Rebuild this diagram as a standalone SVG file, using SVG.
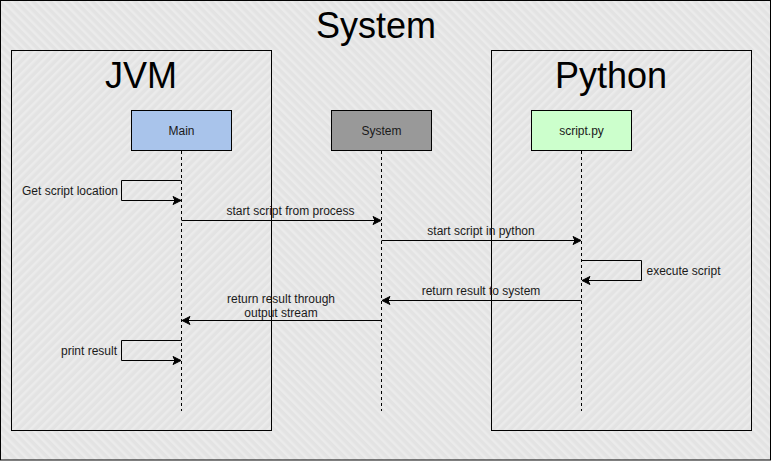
<svg xmlns="http://www.w3.org/2000/svg" width="772" height="461" viewBox="0 0 772 461">
<style>
text{font-family:"Liberation Sans",Arial,Helvetica,sans-serif;fill:#1a1a1a}
.big{font-size:36px;fill:#000}
.lbl{font-size:12px}
.frame{stroke:#000;stroke-width:1}
.box{stroke:#000;stroke-width:1}
.life{stroke:#000;stroke-width:1;stroke-dasharray:3 3;fill:none}
.msg{stroke:#000;stroke-width:1;fill:none;marker-end:url(#arr)}
</style>
<defs>
<pattern id="hatchOuter" patternUnits="userSpaceOnUse" width="6" height="6" patternTransform="rotate(-45)">
<rect width="6" height="6" fill="#e3e3e3"/>
<rect width="2.5" height="6" fill="#ebebeb"/>
</pattern>
<pattern id="hatchInner" patternUnits="userSpaceOnUse" width="6" height="6" patternTransform="rotate(45)">
<rect width="6" height="6" fill="#e3e3e3"/>
<rect width="2.5" height="6" fill="#ebebeb"/>
</pattern>
<marker id="arr" viewBox="0 0 10 10" refX="9" refY="5" markerWidth="10" markerHeight="10" markerUnits="userSpaceOnUse" orient="auto">
<path d="M1,1 L9,5 L1,9 L3,5 Z" fill="#000" stroke="#000" stroke-width="1" stroke-linejoin="miter"/>
</marker>
</defs>

<g id="system-frame">
<rect x="0.5" y="0.5" width="770" height="459.5" fill="url(#hatchOuter)" class="frame"/>
<text class="big" x="376" y="38" text-anchor="middle">System</text>
</g>

<g id="jvm-frame">
<rect x="11.5" y="50.5" width="260" height="380" fill="url(#hatchInner)" class="frame"/>
<text class="big" x="141" y="88" text-anchor="middle">JVM</text>
</g>

<g id="python-frame">
<rect x="491.5" y="50.5" width="260" height="380" fill="url(#hatchInner)" class="frame"/>
<text class="big" x="611" y="88" text-anchor="middle">Python</text>
</g>

<g id="main">
<rect x="131.5" y="110.5" width="100" height="40" fill="#A9C4EB" class="box"/>
<text class="lbl" x="181.5" y="135" text-anchor="middle">Main</text>
<line x1="181.5" y1="151" x2="181.5" y2="411" class="life"/>
</g>

<g id="system">
<rect x="331.5" y="110.5" width="100" height="40" fill="#999999" class="box"/>
<text class="lbl" x="381.5" y="135" text-anchor="middle">System</text>
<line x1="381.5" y1="151" x2="381.5" y2="411" class="life"/>
</g>

<g id="script-py">
<rect x="531.5" y="110.5" width="100" height="40" fill="#CCFFCC" class="box"/>
<text class="lbl" x="581.5" y="135" text-anchor="middle">script.py</text>
<line x1="581.5" y1="151" x2="581.5" y2="411" class="life"/>
</g>

<g id="connectors">
<path class="msg" d="M181.5,180.5 H121.5 V200.5 H181"/>
<text class="lbl" x="118" y="194.5" text-anchor="end">Get script location</text>

<path class="msg" d="M181.5,220.5 H381"/>
<text class="lbl" x="290.5" y="215" text-anchor="middle">start script from process</text>

<path class="msg" d="M381.5,240.5 H581"/>
<text class="lbl" x="481" y="235" text-anchor="middle">start script in python</text>

<path class="msg" d="M581.5,260.5 H641.5 V280.5 H582"/>
<text class="lbl" x="646.5" y="275" text-anchor="start">execute script</text>

<path class="msg" d="M581.5,300.5 H382"/>
<text class="lbl" x="481" y="295" text-anchor="middle">return result to system</text>

<path class="msg" d="M381.5,320.5 H182"/>
<text class="lbl" x="281" y="303" text-anchor="middle">return result through</text>
<text class="lbl" x="281" y="316.5" text-anchor="middle">output stream</text>

<path class="msg" d="M181.5,340.5 H121.5 V360.5 H181"/>
<text class="lbl" x="117" y="355" text-anchor="end">print result</text>
</g>
</svg>
